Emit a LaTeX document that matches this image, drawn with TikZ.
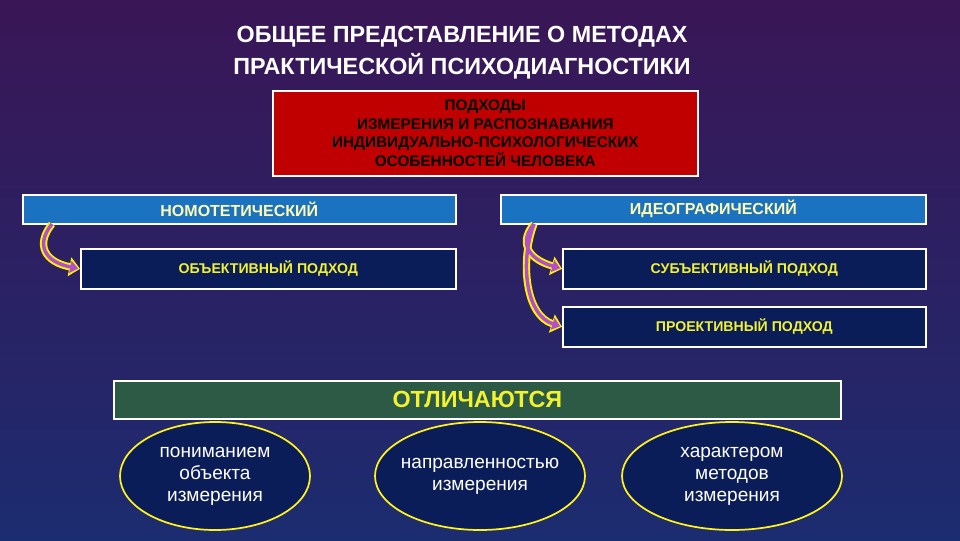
\documentclass[tikz,border=0pt]{standalone}
\usepackage{fontspec}
\setmainfont{Liberation Sans}
\usetikzlibrary{shapes.geometric,arrows.meta}
\definecolor{bgtop}{HTML}{3A1656}
\definecolor{bgbot}{HTML}{1C2C70}
\definecolor{redbox}{HTML}{C00000}
\definecolor{bluebar}{HTML}{1B72C0}
\definecolor{navy}{HTML}{0B1D58}
\definecolor{greenbar}{HTML}{2C5A44}
\definecolor{txtyel}{HTML}{F2F230}
\definecolor{arrmag}{HTML}{B050D0}
\begin{document}
\begin{tikzpicture}[x=0.75pt,y=-0.75pt,
  box/.style={draw=white,line width=1.2pt,minimum height=#1*0.75pt,inner sep=0pt,anchor=north west,align=center,font=\bfseries},
  oval/.style={ellipse,draw=yellow!90!white,line width=1.3pt,fill=navy,text=white,align=center,font=\fontsize{14.3}{16.5}\selectfont,inner sep=-10pt},
  curvarr/.style={line width=5.5pt,draw=yellow,-{Triangle[length=8pt,width=14pt]}},
  curvin/.style={line width=2.6pt,draw=arrmag,-{Triangle[length=6pt,width=9pt]},shorten >=1.4pt}]
\useasboundingbox (0,0) rectangle (960,540);
\shade[top color=bgtop,bottom color=bgbot] (0,0) rectangle (960,540);
\node[text=white,font=\bfseries\fontsize{17.5}{24}\selectfont,align=center] (title) at (462,53) {ОБЩЕЕ ПРЕДСТАВЛЕНИЕ О МЕТОДАХ\\ПРАКТИЧЕСКОЙ ПСИХОДИАГНОСТИКИ};
\node[box=85,fill=redbox,minimum width=425*0.75pt,text=black,font=\bfseries\fontsize{11.5}{14}\selectfont] (top) at (272,90) {ПОДХОДЫ\\ИЗМЕРЕНИЯ И РАСПОЗНАВАНИЯ\\ИНДИВИДУАЛЬНО-ПСИХОЛОГИЧЕСКИХ\\ОСОБЕННОСТЕЙ ЧЕЛОВЕКА};
\node[box=29,fill=bluebar,minimum width=433*0.75pt,text=yellow!30!white,font=\bfseries\fontsize{12}{14}\selectfont] (nomo) at (22,194) {НОМОТЕТИЧЕСКИЙ};
\node[box=29,fill=bluebar,minimum width=425*0.75pt,text=yellow!30!white,font=\bfseries\fontsize{12}{14}\selectfont] (ideo) at (500,194) {ИДЕОГРАФИЧЕСКИЙ};
\node[box=40,fill=navy,minimum width=375*0.75pt,text=txtyel,font=\bfseries\fontsize{10.6}{12}\selectfont] (obj) at (80,248) {ОБЪЕКТИВНЫЙ ПОДХОД};
\node[box=40,fill=navy,minimum width=363*0.75pt,text=txtyel,font=\bfseries\fontsize{10.6}{12}\selectfont] (subj) at (562,248) {СУБЪЕКТИВНЫЙ ПОДХОД};
\node[box=40,fill=navy,minimum width=363*0.75pt,text=txtyel,font=\bfseries\fontsize{10.6}{12}\selectfont] (proj) at (562,306) {ПРОЕКТИВНЫЙ ПОДХОД};
\node[box=38,fill=greenbar,minimum width=727*0.75pt,text=txtyel,font=\bfseries\fontsize{17.5}{20}\selectfont] (diff) at (113,380) {ОТЛИЧАЮТСЯ};
\node[oval,minimum width=190*0.75pt,minimum height=108*0.75pt] (e1) at (215,476) {пониманием\\объекта\\измерения};
\node[oval,minimum width=210*0.75pt,minimum height=108*0.75pt] (e2) at (480,476) {направленностью\\измерения};
\node[oval,minimum width=220*0.75pt,minimum height=108*0.75pt] (e3) at (732,476) {характером\\методов\\измерения};
\coordinate (n0) at (52,224);
\coordinate (i0) at (534,224);
\foreach \s in {curvarr,curvin}{
  \draw[\s] (n0) .. controls (35,245) and (45,262) .. (obj.west);
  \draw[\s] (i0) .. controls (520,240) and (525,258) .. (subj.west);
  \draw[\s] (i0) .. controls (520,260) and (525,315) .. (proj.west);
}
\end{tikzpicture}
\end{document}
